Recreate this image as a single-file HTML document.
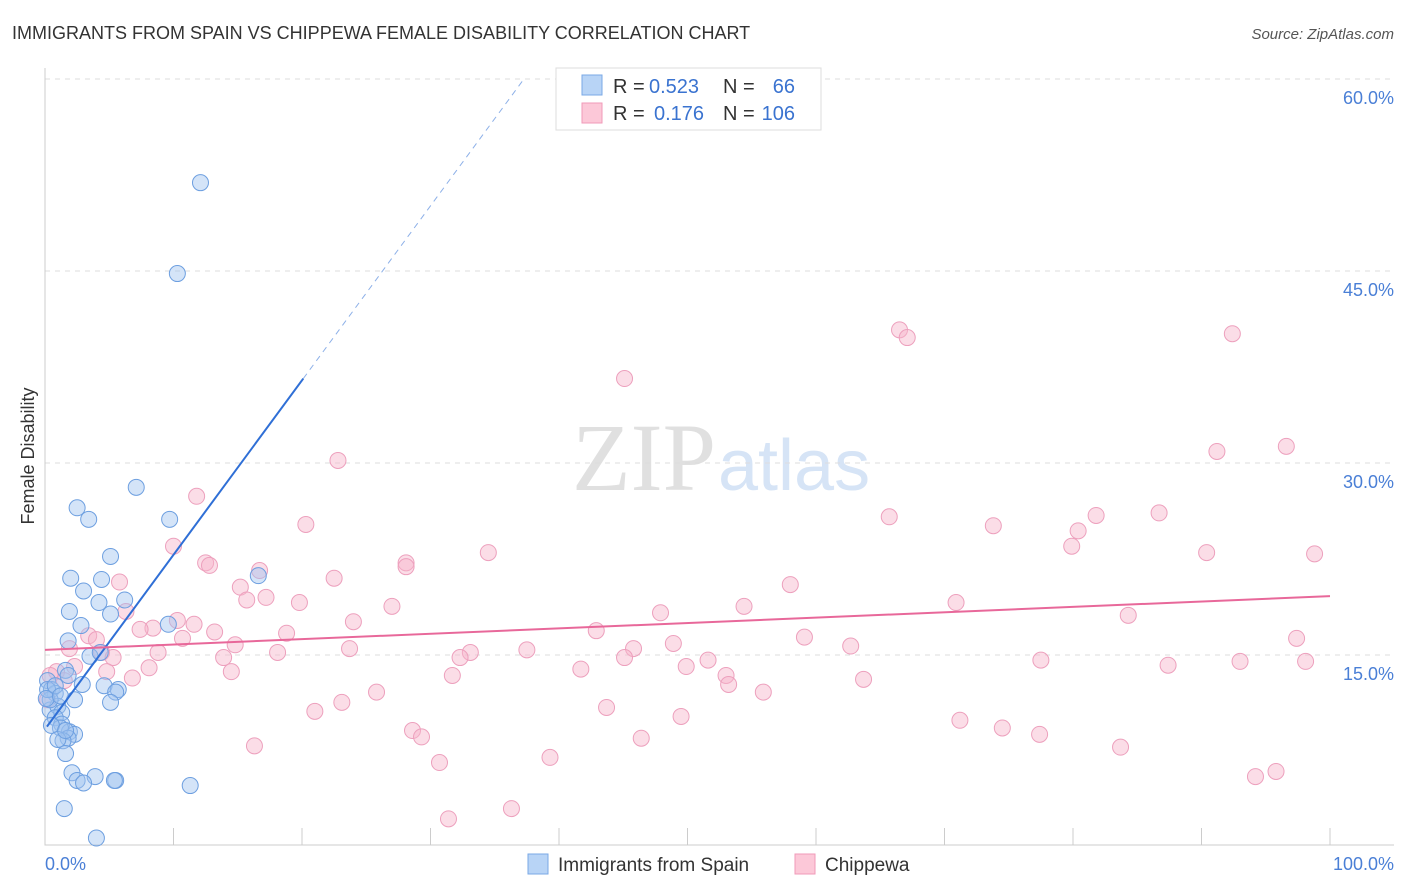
<!DOCTYPE html>
<html><head><meta charset="utf-8"><style>
body{margin:0;background:#fff;font-family:"Liberation Sans",sans-serif;}
svg{display:block}
</style></head><body>
<svg id="chart" width="1406" height="892">
<text x="12" y="39" font-size="18" fill="#333">IMMIGRANTS FROM SPAIN VS CHIPPEWA FEMALE DISABILITY CORRELATION CHART</text>
<text x="1394" y="39" font-size="15" fill="#555" font-style="italic" text-anchor="end">Source: ZipAtlas.com</text>
<text x="716" y="490" font-size="96" fill="#e0e0e0" font-family="Liberation Serif,serif" text-anchor="end">ZIP</text>
<text x="718" y="490" font-size="72" fill="#d6e4f6">atlas</text>
<g id="grid"></g><g id="axes"></g><g id="pink"></g><g id="blue"></g><g id="trend"></g>
<text x="34" y="456" font-size="18" fill="#333" text-anchor="middle" transform="rotate(-90 34 456)">Female Disability</text>
<text x="45" y="870" font-size="18" fill="#4a7fd6">0.0%</text>
<text x="1394" y="870" font-size="18" fill="#4a7fd6" text-anchor="end">100.0%</text>
<g>
<rect x="556" y="68" width="265" height="62" fill="#fff" stroke="#ddd"/>
<rect x="582" y="75" width="20" height="20" fill="#b8d4f6" stroke="#7aa8e6"/>
<rect x="582" y="103" width="20" height="20" fill="#fcc8d8" stroke="#f09ab8"/>
<text x="613" y="93" font-size="20" fill="#333">R =</text>
<text x="649" y="93" font-size="20" fill="#3a73d0">0.523</text>
<text x="723" y="93" font-size="20" fill="#333">N =</text>
<text x="795" y="93" font-size="20" fill="#3a73d0" text-anchor="end">66</text>
<text x="613" y="120" font-size="20" fill="#333">R =</text>
<text x="654" y="120" font-size="20" fill="#3a73d0">0.176</text>
<text x="723" y="120" font-size="20" fill="#333">N =</text>
<text x="795" y="120" font-size="20" fill="#3a73d0" text-anchor="end">106</text>
</g>
<g>
<rect x="528" y="854" width="20" height="20" fill="#b8d4f6" stroke="#7aa8e6"/>
<text x="558" y="871" font-size="19" fill="#333">Immigrants from Spain</text>
<rect x="795" y="854" width="20" height="20" fill="#fcc8d8" stroke="#f09ab8"/>
<text x="825" y="871" font-size="19" fill="#333">Chippewa</text>
</g>
</svg>
<script>
const yTicks=[15,30,45,60];
const yTickLabels=["15.0%","30.0%","45.0%","60.0%"];
const xTicks=[0,10,20,30,40,50,60,70,80,90,100];
const blueX=[12.1,10.3,7.1,2.5,3.4,9.7,5.1,2.0,4.4,16.6,3.0,4.2,6.2,1.9,5.1,9.6,2.8,1.8,3.5,4.3,1.6,1.8,2.9,0.2,0.5,4.6,5.7,5.5,5.1,2.3,0.8,0.4,1.0,1.3,0.8,1.3,1.9,1.2,2.3,1.8,1.4,1.6,2.1,3.9,2.5,3.0,5.5,5.4,11.3,1.5,4.0,0.4,0.2,0.5,1.0,0.1,0.8,1.2,1.6];
const blueY=[51.9,44.8,28.1,26.5,25.6,25.6,22.7,21.0,20.9,21.2,20.0,19.1,19.3,18.4,18.2,17.4,17.3,16.1,14.9,15.2,13.8,13.4,12.7,13.0,12.3,12.6,12.3,12.1,11.3,11.5,12.0,10.7,11.0,10.5,10.1,9.6,9.0,9.3,8.8,8.5,8.3,7.3,5.8,5.5,5.2,5.0,5.2,5.2,4.8,3.0,0.7,11.5,12.3,9.5,8.4,11.6,12.6,11.8,9.1];
const pinkX=[66.5,67.1,92.4,45.1,22.8,91.2,96.6,11.8,20.3,65.7,73.8,81.8,86.7,80.4,79.9,10.0,12.5,12.8,34.5,28.1,28.1,90.4,98.8,16.7,22.5,5.8,15.2,58.0,17.2,15.7,19.8,27.0,70.9,6.3,10.3,11.6,47.9,54.4,84.3,24.0,8.4,7.4,13.2,18.8,42.9,59.1,10.7,3.4,4.0,14.8,97.4,1.9,4.4,5.3,8.8,23.7,37.5,45.8,48.9,62.7,18.1,13.9,33.1,32.3,45.1,51.6,77.5,93.0,98.1,8.1,2.3,0.9,1.5,4.8,41.7,49.9,87.4,14.5,31.7,53.0,6.8,53.2,63.7,25.8,55.9,23.1,21.0,43.7,49.5,71.2,74.5,28.6,29.3,77.4,16.3,46.4,83.7,30.7,39.3,94.2,95.8,36.3,31.4,0.4,0.2];
const pinkY=[40.4,39.8,40.1,36.6,30.2,30.9,31.3,27.4,25.2,25.8,25.1,25.9,26.1,24.7,23.5,23.5,22.2,22.0,23.0,22.2,21.9,23.0,22.9,21.6,21.0,20.7,20.3,20.5,19.5,19.3,19.1,18.8,19.1,18.4,17.7,17.4,18.3,18.8,18.1,17.6,17.1,17.0,16.8,16.7,16.9,16.4,16.3,16.5,16.2,15.8,16.3,15.5,15.2,14.8,15.2,15.5,15.4,15.5,15.9,15.7,15.2,14.8,15.2,14.8,14.8,14.6,14.6,14.5,14.5,14.0,14.1,13.7,13.0,13.7,13.9,14.1,14.2,13.7,13.4,13.4,13.2,12.7,13.1,12.1,12.1,11.3,10.6,10.9,10.2,9.9,9.3,9.1,8.6,8.8,7.9,8.5,7.8,6.6,7.0,5.5,5.9,3.0,2.2,13.4,11.5];
const blueTrend=[9.2,1.363];
const pinkTrend=[15.4,0.042];
const NS="http://www.w3.org/2000/svg";
const X=v=>45+v*12.85, Y=v=>847-v*12.8;
function mk(p,t,a){const e=document.createElementNS(NS,t);for(const k in a)e.setAttribute(k,a[k]);document.getElementById(p).appendChild(e);return e;}
yTicks.forEach((t,i)=>{
 const g=mk('grid','line',{x1:45,x2:1394,y1:Y(t),y2:Y(t),stroke:'#ddd','stroke-dasharray':'5,5'});
 
 
 const l=mk('grid','text',{x:1394,y:Y(t)+25,'font-size':18,fill:'#4a7fd6','text-anchor':'end'});
 l.textContent=yTickLabels[i];
 
 
});
const ax=mk('axes','path',{d:'M45 68V845H1394',fill:'none',stroke:'#ccc'});


xTicks.forEach(t=>{
 const k=mk('axes','line',{x1:X(t),x2:X(t),y1:828,y2:845,stroke:'#ccc'});
 
 
});
pinkX.forEach((x,i)=>{
 const c=mk('pink','circle',{cx:X(x),cy:Y(pinkY[i]),r:8,fill:'rgba(246,180,202,0.45)',stroke:'#eda0bd','stroke-width':1});
 
 
});
blueX.forEach((x,i)=>{
 const c=mk('blue','circle',{cx:X(x),cy:Y(blueY[i]),r:8,fill:'rgba(160,196,240,0.45)',stroke:'#6d9fe0','stroke-width':1});
 
 
});
const bx0=0.15,bx1=20.1,bx2=(60-blueTrend[0])/blueTrend[1];
const b1=mk('trend','line',{x1:X(bx0),y1:Y(blueTrend[0]+blueTrend[1]*bx0),x2:X(bx1),y2:Y(blueTrend[0]+blueTrend[1]*bx1),stroke:'#2f6fd6','stroke-width':2});


const b2=mk('trend','line',{x1:X(bx1),y1:Y(blueTrend[0]+blueTrend[1]*bx1),x2:X(bx2),y2:Y(60),stroke:'#8db0e8','stroke-width':1,'stroke-dasharray':'6,5'});


const p1=mk('trend','line',{x1:X(0),y1:Y(pinkTrend[0]),x2:X(100),y2:Y(pinkTrend[0]+pinkTrend[1]*100),stroke:'#e8689a','stroke-width':2});


</script>
</body></html>
